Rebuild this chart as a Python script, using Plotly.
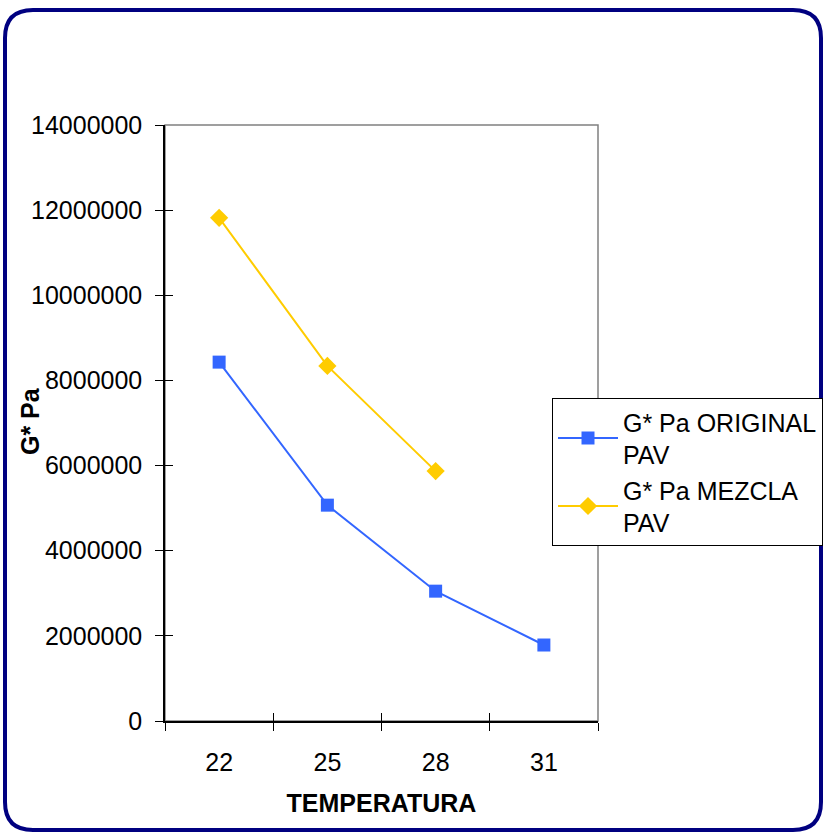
import plotly.graph_objects as go

# Data
temperatures = ["22", "25", "28", "31"]
g_original_pav = [8430000, 5070000, 3050000, 1785000]
g_mezcla_pav = [11820000, 8340000, 5870000]

W, H = 826, 834
L, R, T, B = 165, 228, 125, 113
PW, PH = W - L - R, H - T - B

def px(x):
    return (x - L) / PW

def py(y):
    return (H - B - y) / PH

FONT = "Liberation Sans, Arial, sans-serif"
FS = 25

fig = go.Figure()
fig.add_trace(go.Scatter(
    x=temperatures, y=g_original_pav, mode="lines+markers",
    name="G* Pa ORIGINAL<br>PAV",
    line=dict(color="#3366FF", width=2),
    marker=dict(symbol="square", size=13, color="#3366FF"),
))
fig.add_trace(go.Scatter(
    x=temperatures[:len(g_mezcla_pav)], y=g_mezcla_pav, mode="lines+markers",
    name="G* Pa MEZCLA<br>PAV",
    line=dict(color="#FFCC00", width=2),
    marker=dict(symbol="diamond", size=14, color="#FFCC00"),
))

# Rounded outer frame
x0, x1, y0, y1, r = 5, 821, 10, 830, 28
frame = (
    f"M {px(x0 + r)} {py(y0)} L {px(x1 - r)} {py(y0)} "
    f"Q {px(x1)} {py(y0)} {px(x1)} {py(y0 + r)} "
    f"L {px(x1)} {py(y1 - r)} "
    f"Q {px(x1)} {py(y1)} {px(x1 - r)} {py(y1)} "
    f"L {px(x0 + r)} {py(y1)} "
    f"Q {px(x0)} {py(y1)} {px(x0)} {py(y1 - r)} "
    f"L {px(x0)} {py(y0 + r)} "
    f"Q {px(x0)} {py(y0)} {px(x0 + r)} {py(y0)} Z"
)
fig.add_shape(type="path", path=frame, xref="paper", yref="paper",
              line=dict(color="#000080", width=4), layer="above")
# Plot area outline (top and right edges in grey)
fig.add_shape(type="rect", x0=0, x1=1, y0=0, y1=1, xref="paper", yref="paper",
              line=dict(color="#808080", width=1.5), layer="below")

# Y axis title
fig.add_annotation(text="<b>G* Pa</b>", xref="paper", yref="paper",
                   x=px(30), y=py(421), textangle=-90, showarrow=False,
                   xanchor="center", yanchor="middle",
                   font=dict(family=FONT, size=FS, color="black"))

fig.update_layout(
    width=W, height=H,
    margin=dict(l=L, r=R, t=T, b=B, pad=0, autoexpand=False),
    paper_bgcolor="white", plot_bgcolor="white",
    font=dict(family=FONT, size=FS, color="black"),
    showlegend=True,
    legend=dict(
        x=px(552), y=py(398), xanchor="left", yanchor="top",
        bgcolor="white", bordercolor="black", borderwidth=1,
        font=dict(family=FONT, size=FS, color="black"),
        tracegroupgap=8, itemwidth=60,
    ),
    xaxis=dict(
        type="category", categoryarray=temperatures, range=[-0.5, 3.5],
        showline=True, linecolor="black", linewidth=1.5,
        ticks="outside", ticklen=8, tickcolor="black", tickwidth=1,
        tickson="boundaries", showgrid=False, zeroline=False,
        ticklabelstandoff=18,
        title=dict(text="<b>TEMPERATURA</b>", font=dict(size=FS), standoff=20),
    ),
    yaxis=dict(
        range=[0, 14000000], dtick=2000000, tickformat="d",
        showline=True, linecolor="black", linewidth=1.5,
        ticks="outside", ticklen=8, tickcolor="black", tickwidth=1,
        showgrid=False, zeroline=False, ticklabelstandoff=8,
    ),
    # Inner halves of the crossing tick marks
    xaxis2=dict(
        overlaying="x", range=[-0.5, 3.5], tickmode="array",
        tickvals=[-0.5, 0.5, 1.5, 2.5, 3.5], showticklabels=False,
        ticks="inside", ticklen=8, tickcolor="black", tickwidth=1,
        showgrid=False, zeroline=False, showline=False, side="bottom",
    ),
    yaxis2=dict(
        overlaying="y", range=[0, 14000000], dtick=2000000,
        showticklabels=False, ticks="inside", ticklen=8,
        tickcolor="black", tickwidth=1,
        showgrid=False, zeroline=False, showline=False, side="left",
    ),
)
fig.add_trace(go.Scatter(x=[None], y=[None], xaxis="x2", yaxis="y2",
                         showlegend=False, hoverinfo="skip"))

fig.write_html("out.html")
